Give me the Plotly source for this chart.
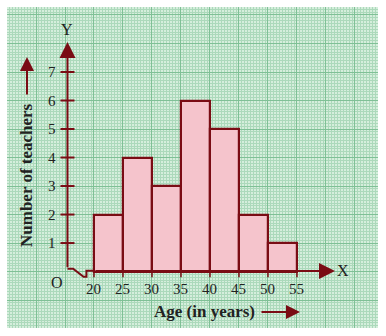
import plotly.graph_objects as go

# ---- data ----
class_edges = [20, 25, 30, 35, 40, 45, 50, 55]
teachers = [2, 4, 3, 6, 5, 2, 1]
x_tick_labels = ["20", "25", "30", "35", "40", "45", "50", "55"]
y_tick_values = [1, 2, 3, 4, 5, 6, 7]
x_title = "Age (in years)"
y_title = "Number of teachers"

# ---- layout constants ----
W, H = 386, 336
L, R, T, B = 7, 8, 7, 8
XR = [5.0, 68.97]
YR = [-1.98, 9.28]
AXIS_X = 15.43          # position of the drawn Y axis (years)
DARK = "#7a0c14"
FILL = "#f5c4cc"
TXT = "#222222"
SERIF = "Liberation Serif, Times New Roman, serif"

mids = [(a + b) / 2 for a, b in zip(class_edges[:-1], class_edges[1:])]
widths = [b - a for a, b in zip(class_edges[:-1], class_edges[1:])]

fig = go.Figure()

# histogram bars
fig.add_trace(go.Bar(
    x=mids, y=teachers, width=widths,
    marker=dict(color=FILL, line=dict(color=DARK, width=2.2)),
    hoverinfo="skip", showlegend=False,
))

# zig-zag break between origin and 20
zig_x = [AXIS_X, 16.4, 18.2, 18.7, 18.7, 20]
zig_y = [0.1, 0.1, -0.18, -0.18, 0.03, 0.03]
fig.add_trace(go.Scatter(x=zig_x, y=zig_y, mode="lines",
                         line=dict(color=DARK, width=2),
                         hoverinfo="skip", showlegend=False))

# y-axis tick marks
fig.add_trace(go.Scatter(
    x=[AXIS_X] * len(y_tick_values), y=y_tick_values, mode="markers",
    marker=dict(symbol="line-ew", size=10, line=dict(color=DARK, width=2)),
    hoverinfo="skip", showlegend=False))
# x-axis tick marks
fig.add_trace(go.Scatter(
    x=class_edges, y=[-0.05] * len(class_edges), mode="markers",
    marker=dict(symbol="line-ns", size=6, line=dict(color=DARK, width=1.5)),
    hoverinfo="skip", showlegend=False))

anns = []
# axis arrows
anns.append(dict(x=61.55, y=0.02, ax=20, ay=0.02, xref="x", yref="y",
                 axref="x", ayref="y", text="", showarrow=True,
                 arrowhead=2, arrowsize=1.6, arrowwidth=2, arrowcolor=DARK))
anns.append(dict(x=AXIS_X, y=8.05, ax=AXIS_X, ay=0.1, xref="x", yref="y",
                 axref="x", ayref="y", text="", showarrow=True,
                 arrowhead=2, arrowsize=1.6, arrowwidth=2, arrowcolor=DARK))
anns.append(dict(x=62.9, y=0.02, text="X", showarrow=False,
                 xanchor="center", yanchor="middle",
                 font=dict(family=SERIF, size=16, color=TXT)))
anns.append(dict(x=AXIS_X, y=8.5, text="Y", showarrow=False,
                 xanchor="center", yanchor="middle",
                 font=dict(family=SERIF, size=16, color=TXT)))
anns.append(dict(x=13.6, y=-0.38, text="O", showarrow=False,
                 xanchor="center", yanchor="middle",
                 font=dict(family=SERIF, size=16, color=TXT)))

# tick labels
for v, t in zip(class_edges, x_tick_labels):
    anns.append(dict(x=v, y=-0.62, text=t, showarrow=False,
                     xanchor="center", yanchor="middle",
                     font=dict(family=SERIF, size=15, color=TXT)))
for v in y_tick_values:
    anns.append(dict(x=12.8, y=v, text=str(v), showarrow=False,
                     xanchor="center", yanchor="middle",
                     font=dict(family=SERIF, size=15, color=TXT)))

def px2paper_x(px):
    return (px - L) / (W - L - R)

def px2paper_y(py):
    return 1 - (py - T) / (H - T - B)

# axis titles
anns.append(dict(x=px2paper_x(204), y=px2paper_y(311), xref="paper", yref="paper",
                 xanchor="center", yanchor="middle",
                 text="<b>" + x_title + "</b>", showarrow=False,
                 font=dict(family=SERIF, size=17, color=TXT)))
anns.append(dict(x=px2paper_x(300), y=px2paper_y(312), ax=-40, ay=0,
                 xref="paper", yref="paper",
                 text="", showarrow=True, arrowhead=2, arrowsize=1.4,
                 arrowwidth=2, arrowcolor=DARK))
anns.append(dict(x=px2paper_x(27), y=px2paper_y(175), xref="paper", yref="paper",
                 xanchor="center", yanchor="middle",
                 text="<b>" + y_title + "</b>", showarrow=False, textangle=-90,
                 font=dict(family=SERIF, size=17, color=TXT)))
anns.append(dict(x=px2paper_x(27), y=px2paper_y(57), ax=0, ay=39,
                 xref="paper", yref="paper",
                 text="", showarrow=True, arrowhead=2, arrowsize=1.4,
                 arrowwidth=2, arrowcolor=DARK))

grid_major = "#7fc096"
grid_minor = "#acd9bb"

fig.update_layout(
    width=W, height=H,
    margin=dict(l=L, r=R, t=T, b=B, pad=0),
    paper_bgcolor="white",
    plot_bgcolor="#d5eedc",
    annotations=anns,
    bargap=0,
    showlegend=False,
    xaxis=dict(range=XR, showticklabels=False, ticks="", zeroline=False,
               showline=False, tick0=20, dtick=5, showgrid=True,
               gridcolor=grid_major, gridwidth=1,
               minor=dict(tick0=20, dtick=0.5, showgrid=True,
                          gridcolor=grid_minor, gridwidth=1),
               fixedrange=True),
    yaxis=dict(range=YR, showticklabels=False, ticks="", zeroline=False,
               showline=False, tick0=0, dtick=1, showgrid=True,
               gridcolor=grid_major, gridwidth=1,
               minor=dict(tick0=0, dtick=0.1, showgrid=True,
                          gridcolor=grid_minor, gridwidth=1),
               fixedrange=True),
)

fig.write_html("out.html", config={"displayModeBar": False})
